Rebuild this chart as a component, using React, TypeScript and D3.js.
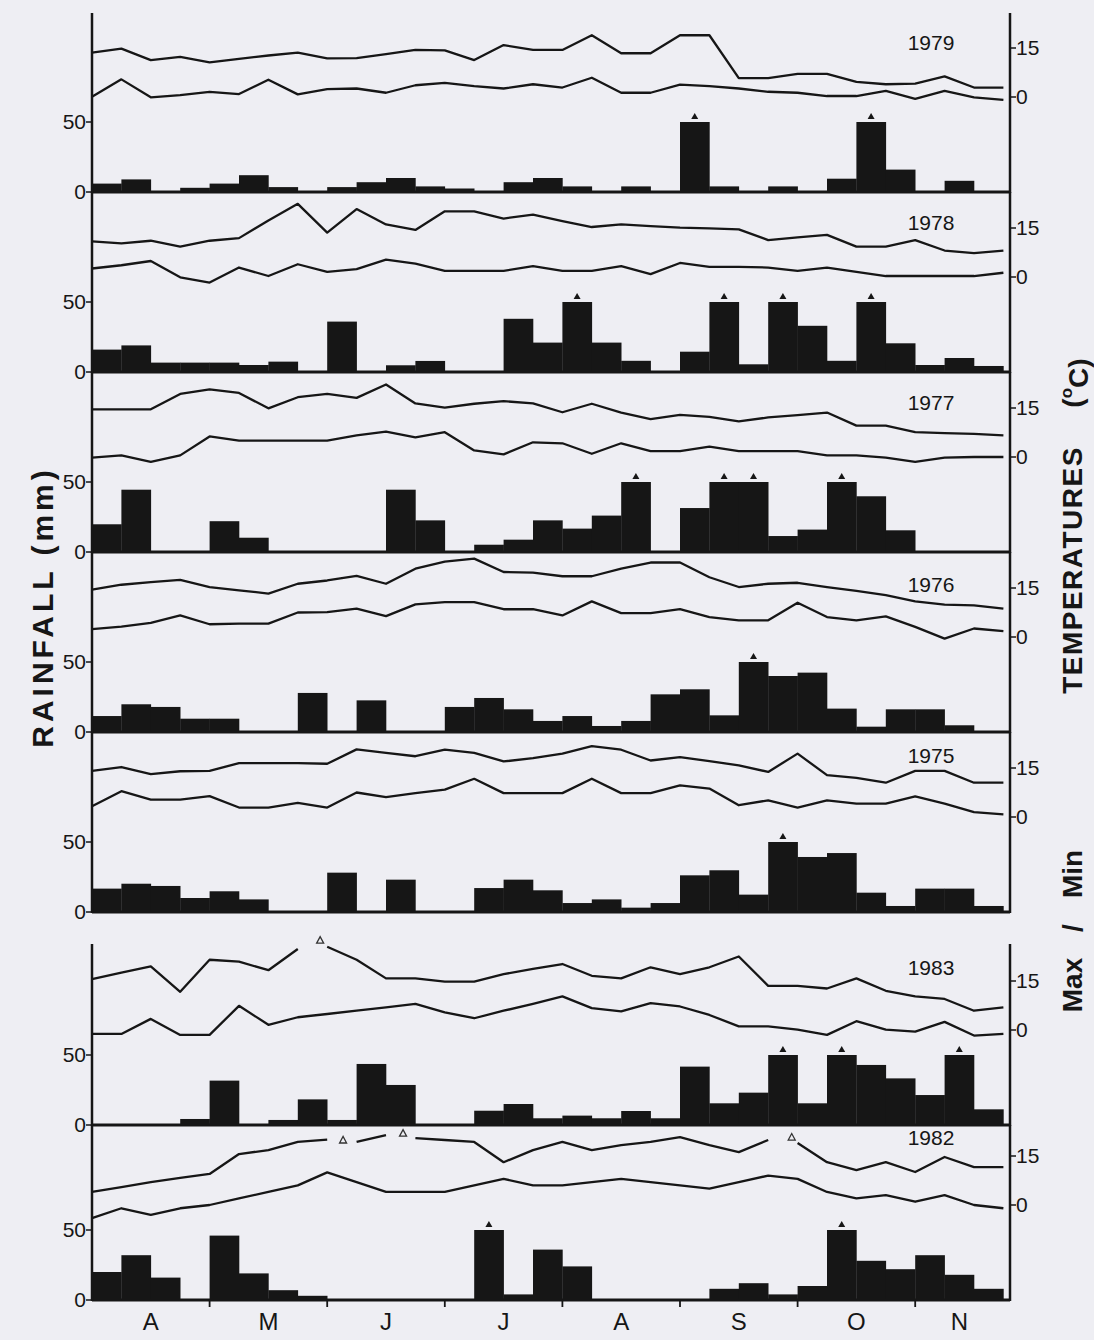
import React from "react";
import * as d3 from "d3";

// ---------- DATA ----------
const years = ["1979", "1978", "1977", "1976", "1975", "1983", "1982"];
const months = ["A", "M", "J", "J", "A", "S", "O", "N"];
const monthCenters = [2, 6, 10, 14, 18, 22, 26, 29.5]; // in weekly-bin units
const monthBounds = [4, 8, 12, 16, 20, 24, 28];
const rainTicks = [0, 50];
const tempTicks = [0, 15];
const RAIN_CAP = 50;

// weekly rainfall (mm); values > 50 are drawn capped with a marker
const rain1979 = [6, 9, 0, 3, 6, 12, 3.5, 0, 3.5, 7, 10, 4, 2.5, 0, 7, 10, 4, 0, 4, 0, 60, 4, 0, 4, 0, 9.5, 60, 16, 0, 8, 0];
const rain1978 = [16, 19, 6.7, 6.7, 6.7, 5, 7.4, 0, 36, 0, 4.8, 7.9, 0, 0, 38, 21, 60, 21, 8, 0, 14.5, 60, 5.5, 60, 33, 8, 60, 20.5, 5, 10, 4.3];
const rain1977 = [19.8, 44.5, 0, 0, 22, 10.2, 0, 0, 0, 0, 44.5, 22.6, 0, 5.2, 8.8, 22.6, 16.7, 26, 60, 0, 31.4, 60, 60, 11.4, 16, 60, 39.8, 15.5, 0, 0, 0];
const rain1976 = [11.4, 19.8, 17.9, 9.5, 9.5, 0, 0, 27.9, 0, 22.6, 0, 0, 17.9, 24.3, 16.2, 7.9, 11.4, 4.3, 7.9, 26.9, 30.5, 11.9, 60, 40, 42.4, 16.7, 3.8, 16.2, 16.2, 4.8, 0];
const rain1975 = [16.7, 20.2, 18.6, 10, 14.8, 9, 0, 0, 28.1, 0, 23.1, 0, 0, 17.1, 23.1, 15.5, 6.4, 9, 3.1, 6.4, 26.2, 29.8, 12.4, 60, 39.3, 42.1, 13.8, 4.3, 16.7, 16.7, 4.3];
const rain1983 = [0, 0, 0, 4.3, 31.7, 0, 3.6, 18.3, 3.6, 43.6, 28.6, 0, 0, 10.2, 15, 4.8, 6.7, 4.8, 10, 4.8, 41.7, 15.5, 23.1, 60, 15.5, 60, 42.9, 33.3, 21.4, 60, 11.2];
const rain1982 = [20, 32, 16, 0, 46, 19, 7, 3, 0, 0, 0, 0, 0, 60, 4, 36, 24, 0, 0, 0, 0, 8, 12, 4, 10, 60, 28, 22, 32, 18, 8];

// weekly max / min temperatures (deg C), at week boundaries
const tmax1979 = [13.6, 14.8, 11.3, 12.3, 10.6, 11.7, 12.7, 13.6, 11.8, 11.9, 13.1, 14.4, 14.3, 11.3, 15.9, 14.4, 14.4, 18.9, 13.4, 13.4, 18.9, 18.9, 5.8, 5.8, 7.1, 7.1, 4.6, 3.9, 4.1, 6.3, 2.9, 2.9];
const tmin1979 = [0.1, 5.4, -0.1, 0.6, 1.6, 0.9, 5.3, 0.8, 2.4, 2.6, 1.3, 3.6, 4.3, 3.3, 2.6, 3.9, 2.9, 5.9, 1.3, 1.3, 3.8, 3.3, 2.6, 1.6, 1.3, 0.3, 0.3, 1.9, -0.6, 1.9, -0.1, -0.9];
const tmax1978 = [10.9, 10.3, 11.1, 9.3, 11.1, 11.9, 17.3, 22.4, 13.6, 20.8, 16.1, 14.4, 20.1, 20.1, 17.9, 19.1, 17.1, 15.3, 16.1, 15.6, 15.1, 14.9, 14.6, 11.3, 12.1, 12.9, 9.3, 9.3, 11.3, 8.1, 7.3, 8.1];
const tmin1978 = [2.6, 3.6, 4.9, -0.1, -1.7, 2.9, 0.3, 3.9, 1.6, 2.4, 5.3, 4.1, 1.9, 1.9, 1.9, 3.3, 1.9, 1.9, 3.3, 0.9, 4.3, 3.1, 3.1, 2.9, 1.9, 2.9, 1.6, 0.3, 0.3, 0.3, 0.3, 1.3];
const tmax1977 = [14.6, 14.6, 14.6, 19.3, 20.7, 19.6, 14.9, 18.3, 19.3, 18.1, 22.2, 16.4, 15.1, 16.3, 17.1, 16.4, 13.7, 16.3, 13.6, 11.6, 12.9, 12.3, 10.9, 12.1, 12.8, 13.6, 9.6, 9.6, 7.6, 7.3, 7.1, 6.6];
const tmin1977 = [-0.2, 0.5, -1.5, 0.5, 6.3, 5.0, 5.0, 5.0, 5.0, 6.6, 7.8, 6.0, 7.6, 2.0, 0.8, 4.5, 4.2, 1.0, 4.2, 1.8, 1.8, 3.2, 1.8, 1.8, 1.8, 0.5, 0.5, -0.2, -1.5, -0.2, 0, 0];
const tmax1976 = [14.5, 16.0, 16.8, 17.5, 15.3, 14.3, 13.3, 16.3, 17.3, 18.7, 16.3, 20.9, 23.1, 24.0, 19.9, 19.7, 18.6, 18.6, 20.9, 22.8, 22.8, 18.3, 15.3, 16.3, 16.6, 15.3, 14.1, 12.8, 10.9, 9.9, 9.7, 8.7];
const tmin1976 = [2.4, 3.2, 4.3, 6.6, 3.9, 4.1, 4.1, 7.5, 7.6, 8.7, 6.4, 10.0, 10.7, 10.7, 8.5, 8.5, 6.6, 10.9, 7.3, 7.3, 8.5, 6.1, 5.1, 5.1, 10.5, 6.1, 5.1, 6.3, 3.1, -0.5, 2.6, 1.8];
const tmax1975 = [14.1, 15.3, 13.1, 14.0, 14.1, 16.5, 16.5, 16.5, 16.3, 20.7, 19.6, 18.6, 20.6, 19.6, 17.0, 18.0, 19.4, 21.7, 20.6, 17.3, 18.3, 17.1, 15.8, 13.8, 19.4, 12.8, 12.0, 10.5, 14.1, 14.1, 10.5, 10.5];
const tmin1975 = [3.3, 7.9, 5.3, 5.3, 6.4, 2.9, 2.9, 4.3, 2.9, 7.5, 6.1, 7.3, 8.4, 11.7, 7.3, 7.3, 7.3, 11.7, 7.3, 7.3, 9.7, 8.7, 3.6, 5.1, 2.9, 5.1, 4.1, 4.1, 6.3, 4.1, 1.5, 0.8];
const tmax1983 = [15.6, 17.6, 19.5, 11.7, 21.5, 20.9, 18.3, 24.8, 25.5, 21.5, 15.8, 15.8, 14.8, 14.8, 17.1, 18.7, 20.2, 16.6, 15.8, 19.2, 17.1, 19.2, 22.5, 13.5, 13.5, 12.7, 15.8, 12.0, 10.3, 9.5, 5.9, 6.9];
const tmin1983 = [-1.2, -1.2, 3.4, -1.5, -1.5, 7.4, 1.6, 3.9, 4.9, 5.9, 6.9, 8.0, 5.4, 3.6, 5.9, 8.0, 10.3, 6.7, 5.7, 8.2, 7.2, 4.6, 1.1, 1.1, 0.1, -1.5, 2.7, 0.1, -0.5, 2.5, -1.7, -1.2];
const tmax1982 = [4.0, 5.5, 7.0, 8.3, 9.5, 15.6, 16.8, 19.3, 20.0, 19.3, 21.4, 20.5, 19.9, 19.3, 13.1, 16.8, 19.3, 16.8, 18.3, 19.3, 20.8, 18.3, 16.2, 19.9, 19.0, 13.1, 10.7, 13.1, 10.1, 14.7, 11.6, 11.6];
const tmin1982 = [-4, -1, -3, -1, 0, 2, 4, 6, 10, 7, 4, 4, 4, 6, 8, 6, 6, 7, 8, 7, 6, 5, 7, 9, 8, 4, 2, 3, 1, 3, 0, -1];

// off-scale max temperature markers (break in line + open triangle)
const tmark1979: { pos: number; t: number }[] = [];
const tmark1978: { pos: number; t: number }[] = [];
const tmark1977: { pos: number; t: number }[] = [];
const tmark1976: { pos: number; t: number }[] = [];
const tmark1975: { pos: number; t: number }[] = [];
const tmark1983 = [{ pos: 7.76, t: 27.5 }];
const tmark1982 = [{ pos: 8.54, t: 19.9 }, { pos: 10.58, t: 22.0 }, { pos: 23.8, t: 20.8 }];

const rains = [rain1979, rain1978, rain1977, rain1976, rain1975, rain1983, rain1982];
const tmaxs = [tmax1979, tmax1978, tmax1977, tmax1976, tmax1975, tmax1983, tmax1982];
const tmins = [tmin1979, tmin1978, tmin1977, tmin1976, tmin1975, tmin1983, tmin1982];
const tmarks = [tmark1979, tmark1978, tmark1977, tmark1976, tmark1975, tmark1983, tmark1982];

// ---------- LAYOUT ----------
const W = 1094;
const H = 1340;
const baselines = [192, 372, 552, 732, 912, 1125, 1300];
const tops = [13, 192, 372, 552, 732, 944, 1125];
const yearLabelOffset = [149, 149, 149, 147, 156, 157, 162];
const X0 = 92;
const XR = 1010;
const INK = "#161616";
const FONT = "'Liberation Sans', Arial, Helvetica, sans-serif";

function splitPieces(vals: number[], marks: { pos: number }[]) {
  const gap = new Set(marks.map((m) => Math.floor(m.pos)));
  const out: [number, number][][] = [];
  let cur: [number, number][] = [];
  vals.forEach((v, k) => {
    cur.push([k, v]);
    if (gap.has(k)) {
      out.push(cur);
      cur = [];
    }
  });
  out.push(cur);
  return out.filter((p) => p.length > 1);
}

export default function App() {
  const x = d3.scaleLinear().domain([0, 31]).range([X0, 1003.4]);

  const panels = years.map((yr, i) => {
    const B = baselines[i];
    const rainY = d3.scaleLinear().domain([0, 50]).range([B, B - 70]);
    const tempY = d3.scaleLinear().domain([0, 15]).range([B - 95, B - 144]);
    const line = d3
      .line<[number, number]>()
      .x((d) => x(d[0]))
      .y((d) => tempY(d[1]));
    const maxPieces = splitPieces(tmaxs[i], tmarks[i]);
    const minPieces = splitPieces(tmins[i], []);
    return (
      <g key={yr}>
        {rains[i].map((v, k) =>
          v > 0 ? (
            <rect
              key={k}
              x={x(k)}
              y={rainY(Math.min(v, RAIN_CAP))}
              width={x(k + 1) - x(k) + 0.3}
              height={B - rainY(Math.min(v, RAIN_CAP))}
              fill={INK}
            />
          ) : null
        )}
        {rains[i].map((v, k) => {
          if (v <= RAIN_CAP) return null;
          const cx = x(k + 0.5);
          const by = rainY(RAIN_CAP) - 3;
          return <path key={"c" + k} d={`M${cx - 3.5},${by} L${cx + 3.5},${by} L${cx},${by - 6} Z`} fill={INK} />;
        })}
        {maxPieces.map((p, k) => (
          <path key={"mx" + k} d={line(p) || ""} fill="none" stroke={INK} strokeWidth={2.3} strokeLinejoin="round" />
        ))}
        {minPieces.map((p, k) => (
          <path key={"mn" + k} d={line(p) || ""} fill="none" stroke={INK} strokeWidth={2.3} strokeLinejoin="round" />
        ))}
        {tmarks[i].map((m, k) => {
          const cx = x(m.pos);
          const cy = tempY(m.t);
          return (
            <path
              key={"tm" + k}
              d={`M${cx - 3.5},${cy + 3} L${cx + 3.5},${cy + 3} L${cx},${cy - 3.5} Z`}
              fill="none"
              stroke="#333"
              strokeWidth={1.3}
            />
          );
        })}
        <line x1={X0} x2={XR} y1={B} y2={B} stroke={INK} strokeWidth={3} />
        <line x1={X0} x2={X0} y1={tops[i]} y2={B + 1} stroke={INK} strokeWidth={2.5} />
        <line x1={XR} x2={XR} y1={tops[i]} y2={B + 1} stroke={INK} strokeWidth={2.5} />
        {rainTicks.map((t) => (
          <g key={"rt" + t}>
            <line x1={X0 - 6} x2={X0} y1={rainY(t)} y2={rainY(t)} stroke={INK} strokeWidth={1.5} />
            <text x={X0 - 6} y={rainY(t)} dy="0.35em" textAnchor="end" fontSize={21} fontFamily={FONT} fill={INK}>
              {t}
            </text>
          </g>
        ))}
        {tempTicks.map((t) => (
          <g key={"tt" + t}>
            <line x1={XR} x2={XR + 6} y1={tempY(t)} y2={tempY(t)} stroke={INK} strokeWidth={1.5} />
            <text x={XR + 6} y={tempY(t)} dy="0.35em" textAnchor="start" fontSize={21} fontFamily={FONT} fill={INK}>
              {t}
            </text>
          </g>
        ))}
        <text
          x={931}
          y={B - yearLabelOffset[i]}
          dy="0.35em"
          textAnchor="middle"
          fontSize={21}
          fontFamily={FONT}
          fill={INK}
        >
          {yr}
        </text>
      </g>
    );
  });

  const Bbot = baselines[baselines.length - 1];

  return (
    <div style={{ position: "absolute", left: 0, top: 0 }}>
      <svg width={W} height={H} viewBox={`0 0 ${W} ${H}`} style={{ display: "block" }}>
        <rect x={0} y={0} width={W} height={H} fill="#eeeef3" />
        {panels}
        {monthBounds.map((m) => (
          <line key={"mb" + m} x1={x(m)} x2={x(m)} y1={Bbot} y2={Bbot + 7} stroke={INK} strokeWidth={1.8} />
        ))}
        {months.map((m, k) => (
          <text
            key={"m" + k}
            x={x(monthCenters[k])}
            y={Bbot + 22}
            dy="0.35em"
            textAnchor="middle"
            fontSize={24}
            fontFamily={FONT}
            fill={INK}
          >
            {m}
          </text>
        ))}
        <text
          transform={`translate(42,607) rotate(-90)`}
          textAnchor="middle"
          dy="0.35em"
          fontSize={30}
          fontWeight="bold"
          letterSpacing={4}
          fontFamily={FONT}
          fill={INK}
        >
          RAINFALL (mm)
        </text>
        <g fontFamily={FONT} fontWeight="bold" fill={INK}>
          <text transform={`translate(1072,985) rotate(-90)`} textAnchor="middle" dy="0.35em" fontSize={28}>
            Max
          </text>
          <text transform={`translate(1072,928) rotate(-90)`} textAnchor="middle" dy="0.35em" fontSize={28}>
            /
          </text>
          <text transform={`translate(1072,874) rotate(-90)`} textAnchor="middle" dy="0.35em" fontSize={28}>
            Min
          </text>
          <text transform={`translate(1072,570) rotate(-90)`} textAnchor="middle" dy="0.35em" fontSize={28} letterSpacing={1.5}>
            TEMPERATURES
          </text>
          <text transform={`translate(1072,383) rotate(-90)`} textAnchor="middle" dy="0.35em" fontSize={28}>
            (<tspan fontSize={17} dy="-0.6em">o</tspan>
            <tspan dy="0.6em">C)</tspan>
          </text>
        </g>
      </svg>
    </div>
  );
}
